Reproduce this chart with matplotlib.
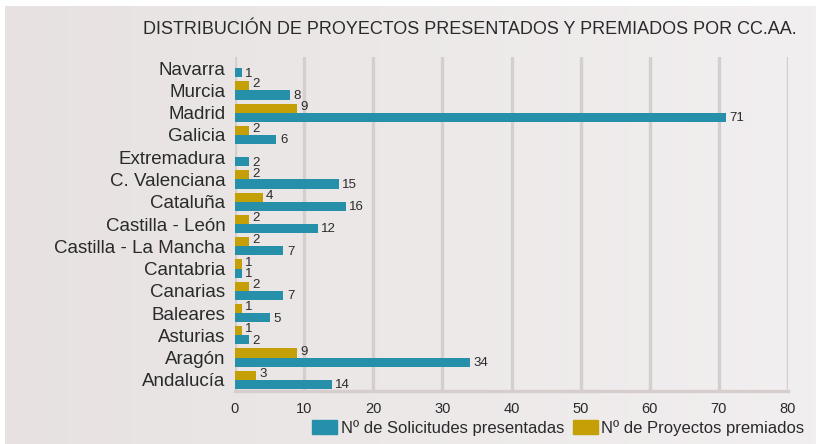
import numpy as np
import matplotlib
matplotlib.use("Agg")
import matplotlib.pyplot as plt
from matplotlib.patches import Patch

# --- DATA ---
regiones = ["Andalucía", "Aragón", "Asturias", "Baleares", "Canarias", "Cantabria",
            "Castilla - La Mancha", "Castilla - León", "Cataluña", "C. Valenciana",
            "Extremadura", "Galicia", "Madrid", "Murcia", "Navarra"]
solicitudes = [14, 34, 2, 5, 7, 1, 7, 12, 16, 15, 2, 6, 71, 8, 1]
premiados = [3, 9, 1, 1, 2, 1, 2, 2, 4, 2, 0, 2, 9, 2, 0]
x_ticks = [0, 10, 20, 30, 40, 50, 60, 70, 80]

# --- STYLE ---
teal = "#2690ab"
gold = "#c49f05"
grid_col = "#d6cdcd"
text_col = "#2a2a2a"
plt.rcParams["font.family"] = ["Liberation Sans", "DejaVu Sans"]

fig = plt.figure(figsize=(8.16, 4.44), dpi=100, facecolor="white")

# background panel with a soft horizontal gradient
bg = fig.add_axes([5 / 816, 0, 1 - 5 / 816, 1 - 6 / 444])
grad = np.linspace(0, 1, 256).reshape(1, -1)
cmap = matplotlib.colors.LinearSegmentedColormap.from_list("bg", ["#e7e2e1", "#f2eff0"])
bg.imshow(grad, aspect="auto", cmap=cmap, extent=[0, 1, 0, 1])
bg.set_axis_off()

ax = fig.add_axes([235 / 816, 1 - 391 / 444, (788 - 235) / 816, (391 - 57) / 444])
ax.set_facecolor("none")

y = np.arange(len(regiones))
h = 0.41
ax.barh(y - h / 2, solicitudes, height=h, color=teal, zorder=3)
ax.barh(y + h / 2, premiados, height=h, color=gold, zorder=3)

# value labels next to each bar end (zeros are not labelled)
for yi, v in zip(y, solicitudes):
    if v > 0:
        ax.text(v + 0.5, yi - h / 2 - 0.04, str(v), va="center", ha="left",
                fontsize=9.5, color=text_col, zorder=4)
for yi, v in zip(y, premiados):
    if v > 0:
        ax.text(v + 0.5, yi + h / 2 + 0.06, str(v), va="center", ha="left",
                fontsize=9.5, color=text_col, zorder=4)

ax.set_xlim(0, 80)
ax.set_ylim(-0.5, len(regiones) - 0.5)
ax.set_xticks(x_ticks)
ax.set_xticklabels([str(t) for t in x_ticks], fontsize=10.5, color=text_col)
ax.set_yticks(y)
ax.set_yticklabels(regiones, fontsize=13.5, color=text_col)
ax.tick_params(axis="both", length=0)
ax.tick_params(axis="x", pad=8)
ax.tick_params(axis="y", pad=7)

for t in x_ticks:
    ax.axvline(t, color=grid_col, linewidth=2.4, zorder=1)
for side in ["top", "right", "left"]:
    ax.spines[side].set_visible(False)
ax.spines["bottom"].set_color(grid_col)
ax.spines["bottom"].set_linewidth(2.4)

fig.text(797 / 816, 1 - 29 / 444, "DISTRIBUCIÓN DE PROYECTOS PRESENTADOS Y PREMIADOS POR CC.AA.",
         ha="right", va="center", fontsize=13, color=text_col)

handles = [Patch(color=teal, label="Nº de Solicitudes presentadas"),
           Patch(color=gold, label="Nº de Proyectos premiados")]
fig.legend(handles=handles, loc="center right", bbox_to_anchor=(804 / 816, 1 - 428 / 444),
           ncol=2, frameon=False, fontsize=12, handlelength=1.5, handleheight=0.9,
           handletextpad=0.2, columnspacing=0.5, labelcolor=text_col,
           borderaxespad=0, borderpad=0)

fig.savefig("out.png", dpi=100, facecolor=fig.get_facecolor())
